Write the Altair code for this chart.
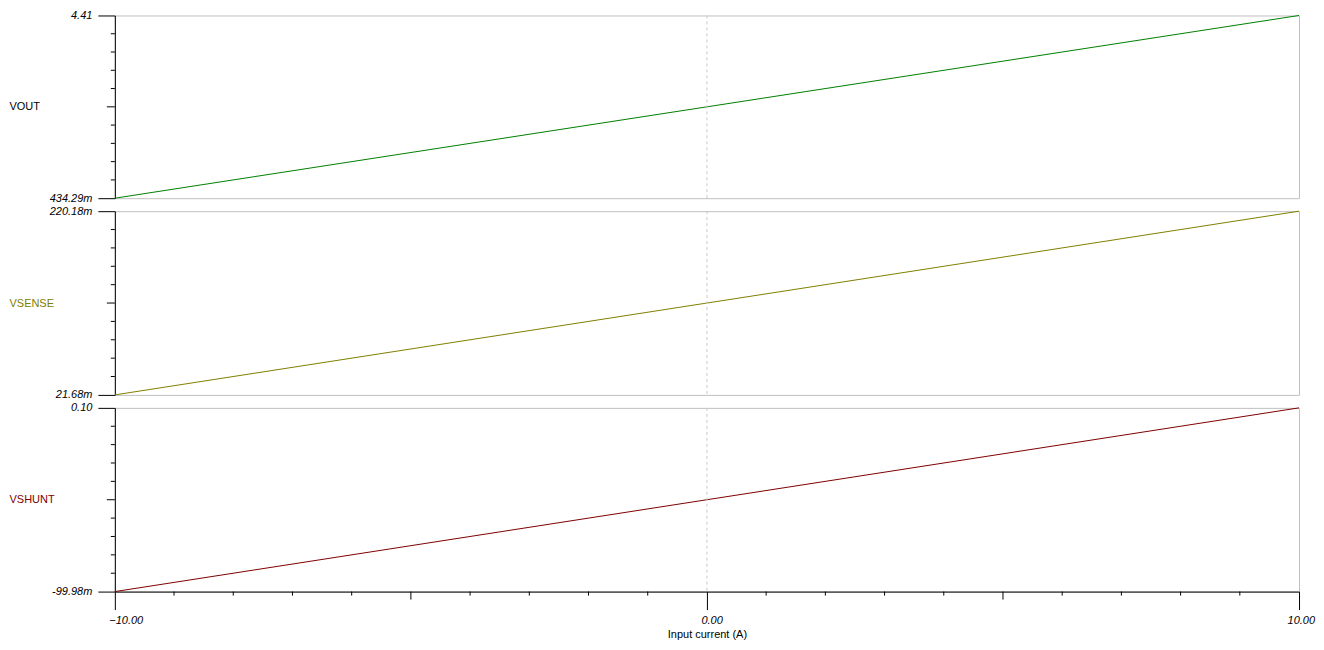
import altair as alt
import pandas as pd

# ---- data ----
x_vals = [-10.0, 0.0, 10.0]
names = ["VOUT", "VSENSE", "VSHUNT"]
vout = [0.43429, 2.4222, 4.41]
vsense = [0.02168, 0.12093, 0.22018]
vshunt = [-0.09998, 0.00001, 0.10]
series = [vout, vsense, vshunt]
y_lo = [0.43429, 0.02168, -0.09998]
y_hi = [4.41, 0.22018, 0.10]
lo_labels = ["434.29m", "21.68m", "-99.98m"]
hi_labels = ["4.41", "220.18m", "0.10"]
line_colors = ["#008000", "#808000", "#800000"]
name_colors = ["#000000", "#808000", "#800000"]
x_major = [-10, 0, 10]
x_mid = [-5, 5]
x_minor = [-9, -8, -7, -6, -4, -3, -2, -1, 1, 2, 3, 4, 6, 7, 8, 9]
x_title = "Input current (A)"

heights = [183, 184, 184]
W = 1186
FONT = "Liberation Sans"

xscale = alt.Scale(domain=[-10, 10], nice=False, zero=False)


def panel(i, bottom):
    h = heights[i]
    lo, hi = y_lo[i], y_hi[i]
    mid = (lo + hi) / 2
    yscale = alt.Scale(domain=[lo, hi], nice=False, zero=False)
    df = pd.DataFrame({"x": x_vals, "y": series[i]})

    if bottom:
        xaxis = alt.Axis(values=x_major, labelExpr="format(datum.value, '.2f')",
                         tickSize=18, labelFlush=False, labelAlign="left",
                         labelOffset={"condition": {"test": "datum.value == 10", "value": -12},
                                      "value": -6},
                         labelPadding=5, title=x_title,
                         titlePadding=3, labelFontStyle="italic")
    else:
        xaxis = None

    yaxis = alt.Axis(values=[lo, hi],
                     labelExpr=f"datum.value < {mid} ? '{lo_labels[i]}' : '{hi_labels[i]}'",
                     tickSize=17, labelPadding=6, labelFontStyle="italic",
                     title=names[i], titleAngle=0, titleAlign="left",
                     titleBaseline="middle", titleX=-106, titleY=h / 2,
                     titleColor=name_colors[i], labelFlush=False)

    X = lambda: alt.X("x:Q", scale=xscale, axis=xaxis)
    Y = lambda: alt.Y("y:Q", scale=yscale, axis=yaxis)

    line = alt.Chart(df).mark_line(color=line_colors[i], strokeWidth=1).encode(x=X(), y=Y())

    zero = alt.Chart(pd.DataFrame({"x": [0.0]})).mark_rule(
        color="#c8c8c8", strokeDash=[3, 3], strokeWidth=1
    ).encode(x=X())

    step = (hi - lo) / 10
    minor_y = [lo + k * step for k in range(1, 10) if k != 5]
    ymin = alt.Chart(pd.DataFrame({"y": minor_y})).mark_rule(color="black", strokeWidth=1).encode(
        y=Y(), x=alt.value(-4), x2=alt.value(0))
    ymid = alt.Chart(pd.DataFrame({"y": [mid]})).mark_rule(color="black", strokeWidth=1).encode(
        y=Y(), x=alt.value(-8), x2=alt.value(0))

    layers = [line, zero, ymin, ymid]
    if bottom:
        xmn = alt.Chart(pd.DataFrame({"x": x_minor})).mark_rule(color="black", strokeWidth=1).encode(
            x=X(), y=alt.value(h), y2=alt.value(h + 4))
        xmd = alt.Chart(pd.DataFrame({"x": x_mid})).mark_rule(color="black", strokeWidth=1).encode(
            x=X(), y=alt.value(h), y2=alt.value(h + 8))
        layers += [xmn, xmd]
    return alt.layer(*layers).properties(width=W, height=h)


chart = alt.vconcat(
    panel(0, False), panel(1, False), panel(2, True), spacing=13, bounds="flush"
).properties(
    padding={"left": 0, "top": 0, "right": 0, "bottom": 0}
).configure_view(
    stroke="#c0c0c0", strokeWidth=1
).configure_axis(
    domainColor="black", tickColor="black", domainWidth=1, tickWidth=1,
    labelFont=FONT, labelFontSize=11, labelColor="black",
    titleFont=FONT, titleFontSize=11, titleFontWeight="normal", titleColor="black",
    grid=False,
)

chart.save("out.html", embed_options={"renderer": "svg", "actions": False})
